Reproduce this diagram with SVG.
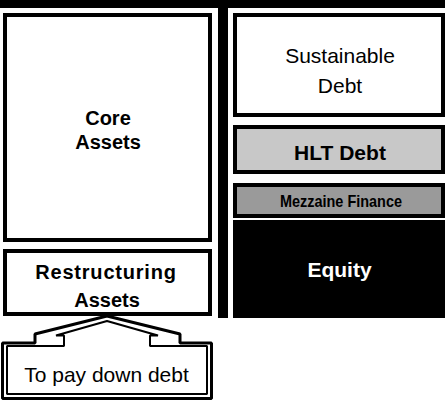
<svg xmlns="http://www.w3.org/2000/svg" width="445" height="402" viewBox="0 0 445 402">
<style>
.box{stroke:#000;stroke-width:4;fill:#fff}
.t{font-family:"Liberation Sans",Arial,sans-serif;text-anchor:middle;fill:#000}
.b{font-weight:bold}
.conn{fill:none;stroke:#000;stroke-linejoin:bevel}
</style>
<rect width="445" height="402" fill="#fff"/>
<g id="frame">
<rect x="0" y="0" width="445" height="8" fill="#000"/>
<rect x="218" y="0" width="10" height="318" fill="#000"/>
</g>
<g id="core-assets">
<rect class="box" x="5" y="15" width="205" height="225"/>
<text class="t b" x="108" y="125" font-size="20">Core</text>
<text class="t b" x="108" y="149" font-size="20">Assets</text>
</g>
<g id="restructuring-assets">
<rect class="box" x="5" y="251" width="205" height="63"/>
<text class="t b" x="106" y="279" font-size="20" letter-spacing="0.8">Restructuring</text>
<text class="t b" x="107" y="307" font-size="20">Assets</text>
</g>
<g id="sustainable-debt">
<rect class="box" x="235" y="15" width="208" height="100"/>
<text class="t" x="340" y="63" font-size="21">Sustainable</text>
<text class="t" x="340" y="93" font-size="21">Debt</text>
</g>
<g id="hlt-debt">
<rect class="box" x="235" y="127" width="208" height="45" style="fill:#c8c8c8"/>
<text class="t b" x="340" y="160" font-size="21">HLT Debt</text>
</g>
<g id="mezzanine">
<rect class="box" x="235" y="185" width="208" height="31" style="fill:#9a9a9a"/>
<text class="t b" x="341" y="207" font-size="16.5" textLength="122" lengthAdjust="spacingAndGlyphs">Mezzaine Finance</text>
</g>
<g id="equity">
<rect x="233" y="220" width="212" height="98" fill="#000"/>
<text class="t b" x="339.5" y="277" font-size="21" style="fill:#fff">Equity</text>
</g>
<g id="connectors">
<path class="conn" stroke-width="3" d="M2.5,398.5 L2.5,343 L35,343 L35,334 L107,316 L180,334 L180,343 L211.5,343 L211.5,398.5 Z"/>
<path class="conn" stroke-width="2" d="M7,394 L7,346 L64,346 L64,335.5 L56,335.5 L107,321 L158,335.5 L150,335.5 L150,346 L207,346 L207,394 Z"/>
</g>
<g id="pay-down-debt">
<text class="t" x="106.5" y="382" font-size="21">To pay down debt</text>
</g>
</svg>
